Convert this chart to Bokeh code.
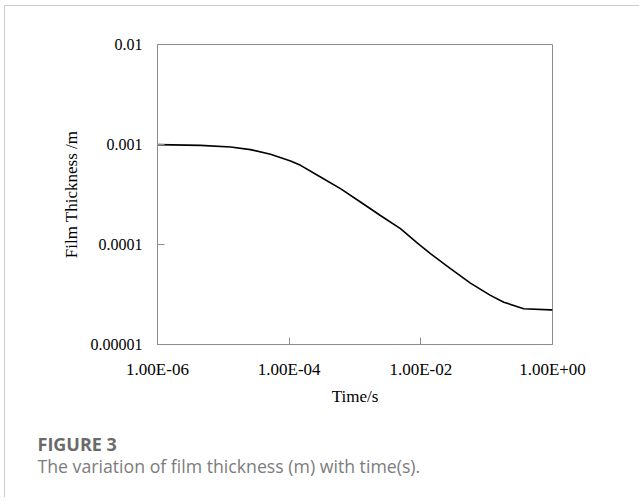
from bokeh.plotting import figure
from bokeh.models import FixedTicker, CustomJSTickFormatter, Title
from bokeh.embed import file_html
from bokeh.resources import INLINE

# ---- data ----
time_s = [1.0e-6, 4.5e-6, 1.29e-5, 2.58e-5, 5.2e-5, 1.05e-4, 1.49e-4, 2.99e-4,
          6.01e-4, 1.21e-3, 2.43e-3, 4.90e-3, 8.79e-3, 1.40e-2, 2.82e-2,
          5.67e-2, 0.114, 0.182, 0.365, 0.93, 1.0]
thickness_m = [9.98e-4, 9.8e-4, 9.44e-4, 8.89e-4, 7.98e-4, 6.84e-4, 6.19e-4,
               4.73e-4, 3.62e-4, 2.66e-4, 1.95e-4, 1.44e-4, 1.04e-4, 8.09e-5,
               5.73e-5, 4.11e-5, 3.10e-5, 2.65e-5, 2.28e-5, 2.22e-5, 2.22e-5]

x_ticks = [1e-6, 1e-4, 1e-2, 1e0]
x_tick_labels = ["1.00E-06", "1.00E-04", "1.00E-02", "1.00E+00"]
y_ticks = [1e-5, 1e-4, 1e-3, 1e-2]
y_tick_labels = ["0.00001", "0.0001", "0.001", "0.01"]

x_title = "Time/s"
y_title = "Film Thickness /m"
caption_head = "FIGURE 3"
caption_text = "The variation of film thickness (m) with time(s)."

SERIF = "Liberation Serif"
AXIS_GRAY = "#8c8c8c"

W, H = 635, 492
p = figure(width=W, height=H, x_axis_type="log", y_axis_type="log",
           x_range=(x_ticks[0], x_ticks[-1]), y_range=(y_ticks[0], y_ticks[-1]),
           output_backend="svg", toolbar_location=None,
           min_border_left=152, min_border_right=88,
           min_border_top=38, min_border_bottom=154,
           margin=(5, 0, 0, 4),
           styles={"border-left": "1px solid #cccccc",
                   "border-top": "1px solid #cccccc"})

p.xgrid.visible = False
p.ygrid.visible = False
p.outline_line_color = AXIS_GRAY
p.outline_line_width = 1
p.background_fill_color = "white"
p.border_fill_color = "white"

p.line(time_s, thickness_m, line_color="black", line_width=1.6)

p.xaxis.ticker = FixedTicker(ticks=x_ticks, minor_ticks=[])
p.yaxis.ticker = FixedTicker(ticks=y_ticks, minor_ticks=[])
p.xaxis.formatter = CustomJSTickFormatter(
    args=dict(labels=x_tick_labels),
    code="const i = Math.round((Math.log10(tick) + 6) / 2); return labels[i];")
p.yaxis.formatter = CustomJSTickFormatter(
    args=dict(labels=y_tick_labels),
    code="const i = Math.round(Math.log10(tick) + 5); return labels[i];")

for ax in (p.xaxis, p.yaxis):
    ax.axis_line_color = AXIS_GRAY
    ax.major_tick_line_color = AXIS_GRAY
    ax.major_tick_in = 7
    ax.major_tick_out = 0
    ax.minor_tick_line_color = None
    ax.major_label_text_font = SERIF
    ax.major_label_text_font_style = "normal"
    ax.major_label_text_color = "black"
    ax.axis_label_text_font = SERIF
    ax.axis_label_text_font_size = "17px"
    ax.axis_label_text_font_style = "normal"
    ax.axis_label_text_color = "black"

p.xaxis.major_label_text_font_size = "17px"
p.yaxis.major_label_text_font_size = "16px"
p.xaxis.axis_label = x_title
p.yaxis.axis_label = y_title
p.xaxis.major_label_standoff = 15
p.xaxis.axis_label_standoff = 5
p.yaxis.major_label_standoff = 15
p.yaxis.axis_label_standoff = 7

# caption as titles below the x axis (first one is an empty spacer)
p.add_layout(Title(text=" ", standoff=18, text_font_size="1px",
                   text_color="white"), "below")
p.add_layout(Title(text=caption_head, align="left", offset=-120, standoff=0,
                   text_font="Open Sans", text_font_style="bold",
                   text_font_size="18px", text_color="#6a6a6a"), "below")
p.add_layout(Title(text=caption_text, align="left", offset=-120, standoff=-8,
                   text_font="Open Sans", text_font_style="normal",
                   text_font_size="17.7px", text_color="#7c7c7c"), "below")

open("out.html", "w").write(file_html(p, INLINE))
